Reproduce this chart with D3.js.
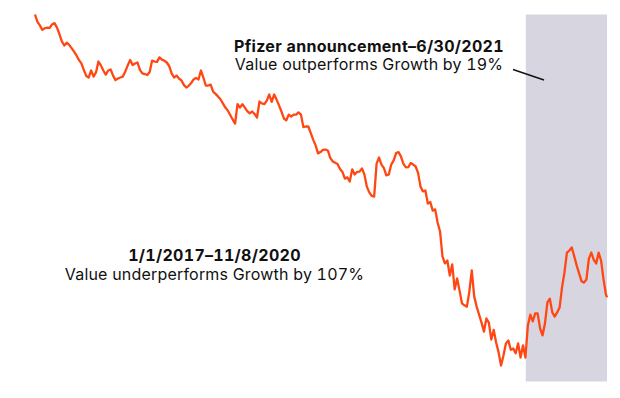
<!DOCTYPE html>
<html>
<head>
<meta charset="utf-8">
<script src="https://cdn.jsdelivr.net/npm/d3@7"></script>
<style>
  html, body { margin: 0; padding: 0; background: #ffffff; }
  svg { display: block; }
  text { font-family: Inter, "Open Sans", sans-serif; fill: #111; font-variant-numeric: tabular-nums; }
</style>
</head>
<body>
<svg id="chart" width="620" height="398"></svg>
<script>
// Cumulative relative performance, Value minus Growth (%), weekly from 1/1/2017
const startDate = "2017-01-01";
const endDate = "2021-06-30";
const pfizerDate = "2020-11-09";
const weeklyValues = [
  0, -2.3, -3.4, -4.8, -4.3, -4.1, -4.2, -3.1, -2.7, -4.1,
  -6.1, -8.4, -9.7, -8.8, -9.5, -10.5, -11.6, -12.8, -14.2, -15.3,
  -17.3, -19.2, -19.7, -17.5, -19.4, -18.1, -14.7, -15.9, -17.5, -18.8,
  -17.5, -17.2, -19.1, -20.5, -20.0, -19.7, -19.4, -17.8, -15.9, -14.2,
  -15.8, -15.3, -15.0, -17.3, -18.4, -18.6, -18.9, -18.0, -14.4, -14.7,
  -14.8, -13.4, -14.1, -14.4, -15.0, -16.1, -18.4, -19.7, -19.1, -20.0,
  -20.6, -22.0, -22.8, -22.3, -21.4, -20.3, -19.8, -20.3, -17.5, -19.7,
  -22.2, -22.2, -21.9, -24.1, -24.8, -25.6, -26.5, -27.8, -29.1, -30.0,
  -31.4, -32.8, -34.1, -28.0, -29.1, -28.0, -29.1, -30.2, -30.9, -30.3,
  -31.1, -32.2, -27.2, -27.8, -28.0, -26.9, -25.0, -27.3, -25.0, -26.6,
  -28.4, -30.3, -32.5, -33.1, -31.3, -31.9, -31.3, -31.3, -30.6, -31.3,
  -35.2, -35.0, -35.0, -37.0, -39.1, -40.9, -43.4, -43.0, -42.3, -42.2,
  -42.5, -44.8, -45.9, -46.3, -46.7, -48.3, -49.2, -51.3, -50.9, -52.2,
  -48.4, -50.0, -49.2, -49.1, -48.1, -50.0, -53.8, -55.6, -56.7, -56.9,
  -46.6, -44.7, -46.9, -48.0, -50.3, -50.0, -46.9, -45.6, -43.3, -43.0,
  -44.4, -46.7, -47.8, -47.7, -46.4, -46.9, -47.5, -49.5, -53.8, -55.3,
  -55.0, -59.1, -58.6, -61.3, -60.9, -65.0, -67.8, -75.6, -77.8, -76.9,
  -81.6, -78.1, -85.9, -82.5, -86.3, -90.3, -90.9, -91.3, -86.7, -80.0,
  -88.1, -91.3, -93.8, -96.3, -99.1, -95.0, -96.3, -101.6, -98.6, -102.5,
  -105.6, -109.7, -106.6, -102.8, -101.9, -104.8, -104.4, -105.9, -102.8, -107.2,
  -103.4, -107.2, -97.2, -93.8, -95.9, -93.4, -93.4, -98.1, -100.3, -96.6,
  -90.0, -88.8, -93.1, -94.4, -93.1, -91.6, -85.3, -80.6, -74.4, -73.8,
  -72.8, -75.6, -78.4, -80.9, -83.4, -83.8, -82.8, -76.3, -74.4, -76.7,
  -77.8, -74.4, -76.9, -82.8, -87.5
];
const lastValue = -88.4;
const annotationTexts = [
  ["Pfizer announcement\u20136/30/2021", "Value outperforms Growth by 19%"],
  ["1/1/2017\u201311/8/2020", "Value underperforms Growth by 107%"]
];

const parse = d3.timeParse("%Y-%m-%d");
const t0 = parse(startDate), t1 = parse(endDate), tp = parse(pfizerDate);
const data = weeklyValues.map((v, i) => ({ date: d3.timeDay.offset(t0, 7 * i), value: v }));
data.push({ date: t1, value: lastValue });

const svg = d3.select("#chart");
const x = d3.scaleTime().domain([t0, t1]).range([35, 607]);
const y = d3.scaleLinear().domain([0, -114.7]).range([14.5, 381.5]);

// shaded post-announcement period
svg.append("rect")
  .attr("x", x(tp))
  .attr("y", y(0))
  .attr("width", x(t1) - x(tp))
  .attr("height", y(-114.7) - y(0))
  .attr("fill", "#d7d6e0");

svg.append("path")
  .datum(data)
  .attr("fill", "none")
  .attr("stroke", "#ff4713")
  .attr("stroke-width", 2.3)
  .attr("stroke-linejoin", "round")
  .attr("d", d3.line().x(d => x(d.date)).y(d => y(d.value)));

// annotations
const a1 = svg.append("text").attr("text-anchor", "middle").attr("font-size", 16);
a1.append("tspan").attr("x", 369).attr("y", 51.5).attr("font-weight", 700)
  .attr("letter-spacing", 0.3).text(annotationTexts[0][0]);
a1.append("tspan").attr("x", 369).attr("y", 70).attr("font-weight", 400)
  .attr("letter-spacing", 0.2).text(annotationTexts[0][1]);

svg.append("line")
  .attr("x1", 513).attr("y1", 69.5)
  .attr("x2", 544).attr("y2", 80)
  .attr("stroke", "#111").attr("stroke-width", 1.4);

const a2 = svg.append("text").attr("text-anchor", "middle").attr("font-size", 16);
a2.append("tspan").attr("x", 214.5).attr("y", 261).attr("font-weight", 700)
  .attr("letter-spacing", 0.3).text(annotationTexts[1][0]);
a2.append("tspan").attr("x", 214.5).attr("y", 280).attr("font-weight", 400)
  .attr("letter-spacing", 0.2).text(annotationTexts[1][1]);
</script>
</body>
</html>
